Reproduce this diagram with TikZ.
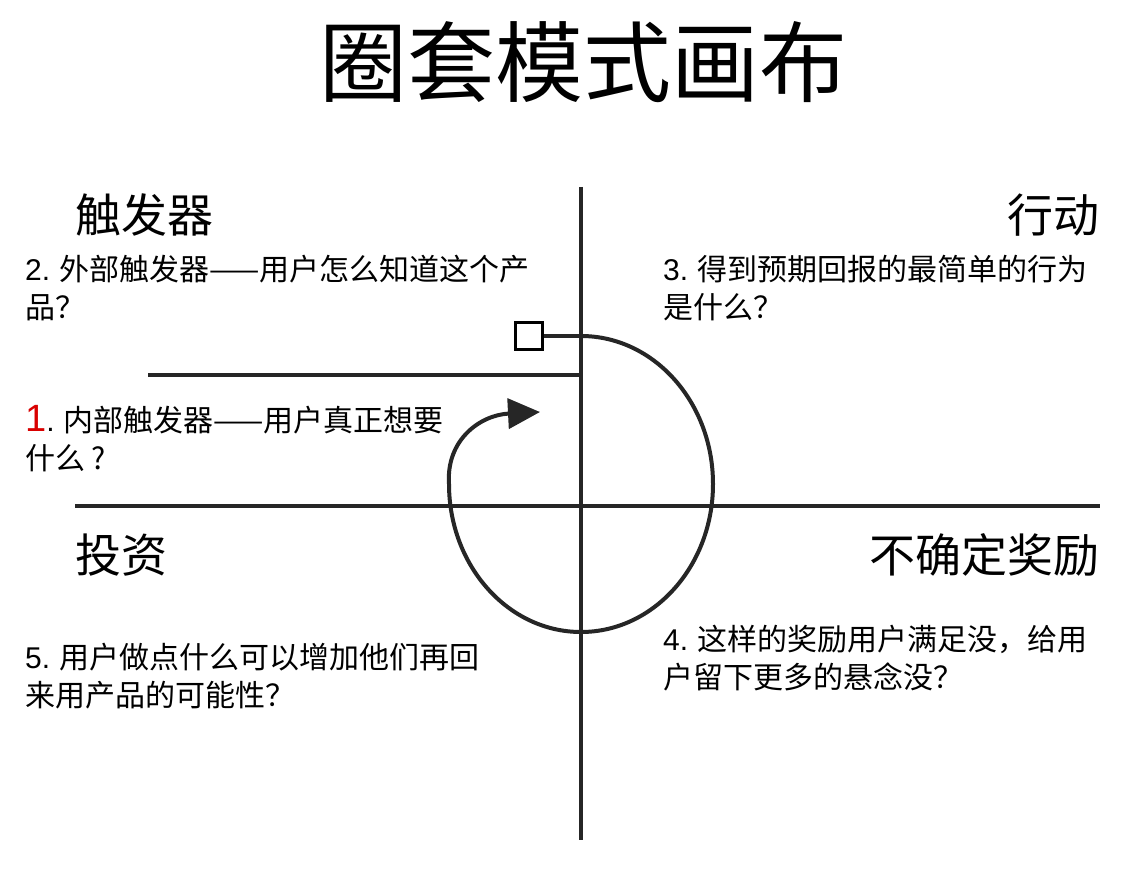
\documentclass[tikz,border=0pt]{standalone}
\usepackage{fontspec}
\setmainfont{Noto Sans CJK SC}
\newfontfamily\latinf{Liberation Sans}
\usetikzlibrary{arrows.meta}
\begin{document}
\begin{tikzpicture}[x=1pt,y=-1pt,
  ln/.style={line width=4pt,black!85},
  head/.style={font=\fontsize{46}{50}\selectfont,inner sep=0pt},
  body/.style={font=\fontsize{30}{38}\selectfont,inner sep=0pt,align=left,anchor=north west}]
\useasboundingbox[fill=white] (0,0) rectangle (1125,877);
\node[inner sep=0pt,font=\fontsize{88}{90}\selectfont] (title) at (583,62) {圈套模式画布};
\coordinate (vt) at (581,187); \coordinate (vb) at (581,840);
\coordinate (hl) at (75,506); \coordinate (hr) at (1100,506);
\coordinate (ul) at (148,375); \coordinate (ur) at (583,375);
\draw[ln] (vt) -- (vb);
\draw[ln] (hl) -- (hr);
\draw[ln] (ul) -- (ur);
\node[draw,line width=3pt,minimum width=27pt,minimum height=27pt,inner sep=0pt] (sq) at (529,336) {};
\coordinate (ctop) at (581,336);
\draw[ln] (sq.east) -- (ctop);
\draw[ln,-{Triangle[length=32pt,width=30pt]}] (ctop) arc[start angle=-90,end angle=180,x radius=132,y radius=148]
  .. controls (446,440) and (480,415) .. (540,412);
\node[head,anchor=west] (t1) at (75,215) {触发器};
\node[head,anchor=east] (t2) at (1100,215) {行动};
\node[head,anchor=west] (t3) at (75,555) {投资};
\node[head,anchor=east] (t4) at (1100,555) {不确定奖励};
\node[body] (b2) at (25,255) {{\latinf 2.} 外部触发器——用户怎么知道这个产\\品？};
\node[body] (b3) at (663,255) {{\latinf 3.} 得到预期回报的最简单的行为\\是什么？};
\node[body] (b1) at (25,405) {{\latinf\fontsize{38}{38}\selectfont\color{red!85!black}1}{\latinf .} 内部触发器——用户真正想要\\什么 ?};
\node[body] (b5) at (25,643) {{\latinf 5.} 用户做点什么可以增加他们再回\\来用产品的可能性？};
\node[body] (b4) at (663,625) {{\latinf 4.} 这样的奖励用户满足没，给用\\户留下更多的悬念没？};
\end{tikzpicture}
\end{document}
